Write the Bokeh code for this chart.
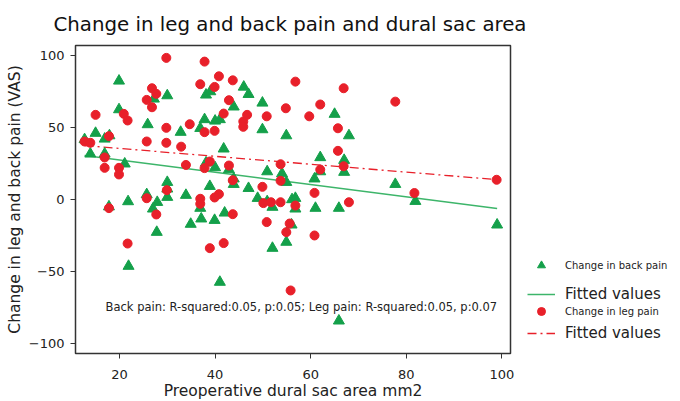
from bokeh.plotting import figure
from bokeh.layouts import row
from bokeh.models import Range1d, Legend, LegendItem, Label, FixedTicker
from bokeh.embed import file_html
from bokeh.resources import INLINE

# ---- data ----
back_x = [19.9, 30, 27.2, 19.9, 25.9, 32.8, 15, 16.9, 17.9, 12.7, 13.9, 16.9, 21.1, 30, 30, 30,
          25.7, 27.9, 21.8, 17.8, 27, 27.8, 21.9, 46, 47, 38.1, 39, 49.9, 43.9, 37.8, 40, 41,
          36.9, 49.9, 54.9, 41.8, 38.1, 40, 42.9, 50.9, 54, 43.9, 43.9, 54.9, 38.9, 47, 33.9,
          48.9, 50.9, 36.9, 37.1, 34.9, 39.9, 42, 52, 54.9, 52, 41, 65, 68, 62, 67, 62, 67,
          60.8, 77.7, 56.1, 56.8, 56.8, 61, 65.9, 56, 65.9, 81.9, 99]
back_y = [82.4, 72.2, 69.9, 62.5, 52.1, 46.8, 46.1, 42.1, 44.4, 41.7, 31.7, 31.7, 24.8, 12, 7.4, 1.6,
          3.5, -1.9, -1.4, -5, -6.5, -22.7, -46.3, 78.2, 73.1, 72.7, 75, 67.1, 64.4, 55.6, 54.6, 55.6,
          49.5, 48.6, 44.4, 35.2, 25.5, 22.2, 20.8, 19.4, 18, 14.4, 10.6, 12, 9.2, 7.8, 3.0,
          0.9, -1.4, -6, -13.4, -17.1, -14.4, -9.3, -5.3, -29.6, -33.8, -57.4, 59.3, 44.4, 29.2, 27.3, 19.4, 19,
          14.4, 10.6, 0, 0.9, -6.5, -6, -6, -17.6, -84.3, -1.2, -17.6]

leg_x = [29.8, 15, 26.8, 27.7, 25.7, 26.8, 20.9, 21.7, 29.8, 17.8, 12.7, 13.9, 25.7, 29.8, 32.9, 16.9,
         16.9, 19.9, 19.9, 33.9, 29.9, 25.7, 17.8, 27.7, 21.7, 37.8, 40.8, 36.9, 39.9, 43.7, 42.9,
         54.8, 41.8, 46.7, 50.8, 45.9, 45.9, 34.7, 37.8, 39.9, 38.9, 37.8, 42.9, 43.7, 49.9, 53.7,
         53.7, 36.9, 36.9, 40.8, 39.9, 50.1, 51.7, 53.7, 43.7, 50.8, 55.6, 54.9, 41.8, 38.9, 55.8,
         56.8, 66.9, 62, 59.7, 77.7, 65.7, 65.7, 62, 66.9, 60.8, 68, 56.8, 60.8, 81.7, 98.9]
leg_y = [98.4, 58.8, 77.3, 73.4, 69.2, 64.1, 59.5, 54.9, 49.8, 44, 40.3, 39.4, 40.3, 39.4, 36.7, 29.2,
         22, 22, 17.4, 24, 6.5, 0.9, -6, -10.4, -30.6, 95.8, 85.6, 80.1, 78.2, 82.8, 69,
         63.4, 59.7, 58.8, 57.8, 54.2, 50.5, 52.3, 46.8, 47.7, 26.4, 21.8, 23.6, 13.4, 8.8, 24.5,
         13, 0.5, -3, 3.7, 1.4, -2.5, -1.9, -1.9, -10.2, -15.7, -16.7, -22.7, -30.3, -33.8, -63.2,
         81.9, 77.3, 66, 57.8, 68, 49.5, 33.8, 20.8, 23.1, 4.6, -1.9, -4.2, -25, 4.5, 13.7]

fit_x = [12.7, 99]
back_fit = [30.6, -6.2]
leg_fit = [37.5, 13.8]

x_ticks = [20, 40, 60, 80, 100]
y_ticks = [-100, -50, 0, 50, 100]

title_text = "Change in leg and back pain and dural sac area"
x_label = "Preoperative dural sac area mm2"
y_label = "Change in leg and back pain (VAS)"
note_text = "Back pain: R-squared:0.05, p:0.05; Leg pain: R-squared:0.05, p:0.07"
legend_labels = ["Change in back pain", "Fitted values", "Change in leg pain", "Fitted values"]

GREEN = "#14A04A"
GREEN_LINE = "#3DB56A"
RED = "#E8202A"
FONT = "DejaVu Sans"

LEFT, FW, RIGHT = 75, 435, 17
TOP, FH, BOTTOM = 45, 308, 48
TOTAL_W = 672

p = figure(frame_width=FW, frame_height=FH, output_backend="svg", toolbar_location=None,
           x_range=Range1d(10.8, 101.8), y_range=Range1d(-107, 107),
           min_border_left=LEFT, min_border_right=RIGHT, min_border_top=TOP, min_border_bottom=BOTTOM)
p.title.text = title_text
p.title.align = "left"
p.title.offset = -22
p.title.text_font = FONT
p.title.text_font_size = "19.8px"
p.title.text_font_style = "normal"
p.title.text_color = "#111111"
p.title.standoff = 20

p.grid.visible = False
p.outline_line_color = "#333333"
p.outline_line_width = 1.5

for ax in (p.xaxis[0], p.yaxis[0]):
    ax.axis_line_color = "#333333"
    ax.major_tick_line_color = "#333333"
    ax.major_tick_in = 0
    ax.major_tick_out = 5
    ax.minor_tick_line_color = None
    ax.major_label_text_font = FONT
    ax.major_label_text_font_size = "13px"
    ax.major_label_text_color = "#222222"
    ax.axis_label_text_font = FONT
    ax.axis_label_text_font_size = "15.5px"
    ax.axis_label_text_font_style = "normal"
    ax.axis_label_text_color = "#222222"

p.xaxis.ticker = FixedTicker(ticks=x_ticks)
p.yaxis.ticker = FixedTicker(ticks=y_ticks)
p.xaxis.axis_label = x_label
p.yaxis.axis_label = y_label
p.xaxis.major_label_standoff = 11
p.xaxis.axis_label_standoff = 0
p.yaxis.major_label_standoff = 6
p.yaxis.axis_label_standoff = 2

back_fit_style = dict(line_color=GREEN_LINE, line_width=1.5)
leg_fit_style = dict(line_color=RED, line_width=1.3, line_dash="9 4 2 4")
back_style = dict(marker="triangle", size=11, fill_color=GREEN, line_color=GREEN)
leg_style = dict(marker="circle", size=9, fill_color=RED, line_color=RED)

p.line(fit_x, back_fit, **back_fit_style)
p.line(fit_x, leg_fit, **leg_fit_style)
p.scatter(back_x, back_y, **back_style)
p.scatter(leg_x, leg_y, **leg_style)

note = Label(x=17.1, y=-75, text=note_text, text_font=FONT, text_font_size="11.5px",
             text_color="#222222", text_baseline="middle")
p.add_layout(note)

# ---- legend panel (separate figure so that nothing is clipped) ----
# its renderers hold the same series, but its ranges keep them out of view
total_h = TOP + FH + BOTTOM
lf = figure(width=TOTAL_W - (LEFT + FW + RIGHT), height=total_h, output_backend="svg",
            toolbar_location=None, x_range=Range1d(0, 1), y_range=Range1d(0, 1),
            min_border_left=0, min_border_right=0, min_border_top=0, min_border_bottom=0)
lf.axis.visible = False
lf.grid.visible = False
lf.outline_line_color = None

lr_back = lf.scatter(back_x, back_y, **back_style)
lr_back_fit = lf.line(fit_x, back_fit, **back_fit_style)
lr_leg = lf.scatter(leg_x, leg_y, **leg_style)
lr_leg_fit = lf.line(fit_x, leg_fit, **leg_fit_style)

renderers = [lr_back, lr_back_fit, lr_leg, lr_leg_fit]
sizes = ["10px", "15px", "10px", "15px"]
ys = [77, 48, 31, 9]
for lab, rr, sz, yy in zip(legend_labels, renderers, sizes, ys):
    lg = Legend(items=[LegendItem(label=lab, renderers=[rr])], location=(0, yy),
                padding=0, margin=0, spacing=0, border_line_alpha=0, background_fill_alpha=0,
                glyph_width=28, glyph_height=20, label_height=20, label_standoff=10,
                label_text_font=FONT, label_text_font_size=sz, label_text_color="#222222")
    lf.add_layout(lg, "center")

layout = row(p, lf, spacing=0)
open("out.html", "w").write(file_html(layout, INLINE))
